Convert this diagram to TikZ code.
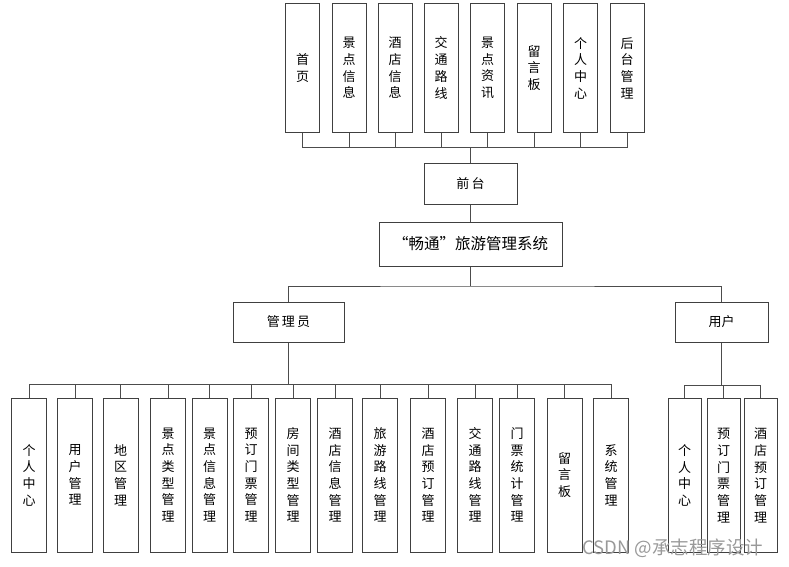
\documentclass[tikz,border=0pt]{standalone}
\usepackage{fontspec}
\newfontfamily\cjk{Noto Sans CJK SC}
\usetikzlibrary{calc}

\begin{document}
\begin{tikzpicture}[
		x=1pt, y=-1pt,
		font=\cjk\fontsize{13}{16.7}\selectfont,
		box/.style={draw=black!75, line width=1pt, fill=white, inner sep=0pt, align=center},
		vbox/.style={box, minimum width=34pt, minimum height=128pt},
		leaf/.style={box, minimum width=35pt, minimum height=154pt},
		mid/.style={box, minimum width=111pt, minimum height=40pt},
		link/.style={draw=black!70, line width=1pt}
		]
		\useasboundingbox (0,0) rectangle (789,567);
		
		% front pages
		\foreach \x/\t [count=\i] in {302.5/{首\\页}, 349/{景\\点\\信\\息}, 395/{酒\\店\\信\\息},
			441/{交\\通\\路\\线}, 487.5/{景\\点\\资\\讯}, 534/{留\\言\\板},
			580.5/{个\\人\\中\\心}, 627/{后\\台\\管\\理}}
		\node[vbox] (t\i) at (\x,68) {\t};
		
		\node[box, minimum width=93pt, minimum height=41pt] (front) at (470.5,183.5) {前\,台};
		\node[box, minimum width=183pt, minimum height=44pt, font=\cjk\fontsize{15.5}{18}\selectfont]
		(sys) at (470.5,244) {“畅通”旅游管理系统};
		
		\coordinate (topbus) at (470.5,147);
		\foreach \i in {1,...,8}
		\draw[link] (t\i.south) |- (topbus);
		\draw[link] (front.north) -- (topbus);
		\draw[link] (front.south) -- (sys.north);
		
		% roles
		\node[mid] (admin) at (288.5,322) {管\,理\,员};
		\node[box, minimum width=93pt, minimum height=40pt] (user) at (721.5,322) {用户};
		
		\coordinate (rolebus) at (470.5,286);
		\draw[link] (sys.south) -- (rolebus);
		\draw[link] (admin.north) |- (rolebus) -| (user.north);
		
		% admin functions
		\foreach \x/\t [count=\i] in {29/{个\\人\\中\\心}, 75/{用\\户\\管\\理}, 120.5/{地\\区\\管\\理},
			168/{景\\点\\类\\型\\管\\理}, 209.5/{景\\点\\信\\息\\管\\理}, 251/{预\\订\\门\\票\\管\\理},
			293/{房\\间\\类\\型\\管\\理}, 335/{酒\\店\\信\\息\\管\\理}, 380/{旅\\游\\路\\线\\管\\理},
			428/{酒\\店\\预\\订\\管\\理}, 475/{交\\通\\路\\线\\管\\理}, 517/{门\\票\\统\\计\\管\\理},
			564.5/{留\\言\\板}, 611/{系\\统\\管\\理}}
		\node[leaf] (a\i) at (\x,475) {\t};
		
		\coordinate (adminbus) at (288.5,384);
		\draw[link] (admin.south) -- (adminbus);
		\foreach \i in {1,...,14}
		\draw[link] (a\i.north) |- (adminbus);
		
		% user functions
		\foreach \x/\t [count=\i] in {684.5/{个\\人\\中\\心}, 723.5/{预\\订\\门\\票\\管\\理},
			760.5/{酒\\店\\预\\订\\管\\理}}
		\node[leaf, minimum width=33pt] (u\i) at (\x,475.5) {\t};
		
		\coordinate (userbus) at (721.5,385);
		\draw[link] (user.south) -- (userbus);
		\foreach \i in {1,2,3}
		\draw[link] (u\i.north) |- (userbus);
		
		% watermark
		\node[text=black!40, font=\cjk\fontsize{18.5}{18.5}\selectfont, anchor=west, inner sep=0pt] (mark) at (582,548) {CSDN @承志程序设计};
		
	\end{tikzpicture}
\end{document}
